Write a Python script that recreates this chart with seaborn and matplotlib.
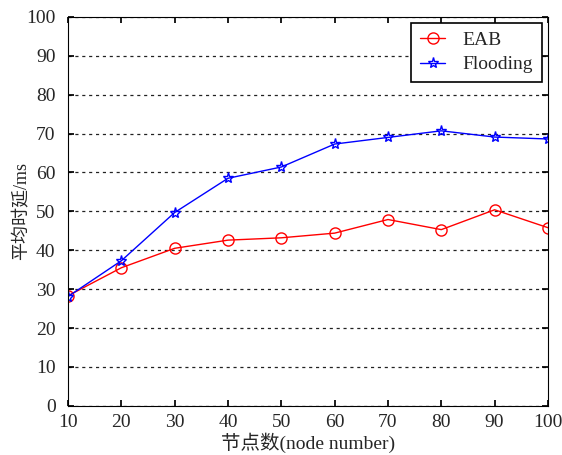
import matplotlib
matplotlib.use("Agg")
import matplotlib.pyplot as plt
import seaborn as sns
import pandas as pd

nodes = [10, 20, 30, 40, 50, 60, 70, 80, 90, 100]
eab = [28.3, 35.5, 40.5, 42.6, 43.2, 44.4, 47.9, 45.3, 50.4, 45.8]
flooding = [28.1, 37.3, 49.7, 58.5, 61.4, 67.3, 69.0, 70.7, 69.1, 68.6]
series_names = ["EAB", "Flooding"]
yticks = list(range(0, 101, 10))

sns.set_theme(style="white")
plt.rcParams['font.family'] = ['Liberation Serif', 'Noto Sans CJK SC']
plt.rcParams['xtick.direction'] = 'in'
plt.rcParams['ytick.direction'] = 'in'

df = pd.DataFrame({
    "node": nodes * 2,
    "delay": eab + flooding,
    "series": [series_names[0]] * len(nodes) + [series_names[1]] * len(nodes),
})

fig = plt.figure(figsize=(5.62, 4.55), dpi=100)
ax = fig.add_axes([0.121, 0.108, 0.854, 0.855])

palette = {"EAB": "#ff0000", "Flooding": "#0000ff"}
markers = {"EAB": "o", "Flooding": "*"}
sns.lineplot(data=df, x="node", y="delay", hue="series", style="series",
             palette=palette, markers=markers, dashes=False, ax=ax,
             markersize=8, markerfacecolor="none", linewidth=1,
             markeredgewidth=1)
for line in ax.lines:
    line.set_markerfacecolor("none")
    line.set_markeredgecolor(line.get_color())

ax.set_xlim(10, 100)
ax.set_ylim(0, 100)
ax.set_xticks(nodes)
ax.set_yticks(yticks)
ax.tick_params(labelsize=14, length=4, color="black", top=True, right=True,
               bottom=True, left=True, direction="in")
ax.tick_params(axis="x", pad=6)
ax.tick_params(axis="y", pad=9)
ax.yaxis.grid(True, linestyle=(0, (2.5, 3)), color="#222222", linewidth=0.9)
ax.xaxis.grid(False)
for s in ax.spines.values():
    s.set_color("black")
    s.set_linewidth(0.8)

ax.set_xlabel("节点数(node number)", fontsize=14, labelpad=1)
ax.set_ylabel("平均时延/ms", fontsize=13, labelpad=-3)

handles, labels = ax.get_legend_handles_labels()
for h in handles:
    h.set_markerfacecolor("none")
leg = ax.legend(handles, labels, loc="upper right", fontsize=14, frameon=True,
                fancybox=False, edgecolor="black", framealpha=1,
                handlelength=1.3, borderaxespad=0.3, borderpad=0.45,
                labelspacing=0.35, handletextpad=0.9)
leg.get_frame().set_linewidth(1.2)

fig.savefig("out.png", dpi=100)
